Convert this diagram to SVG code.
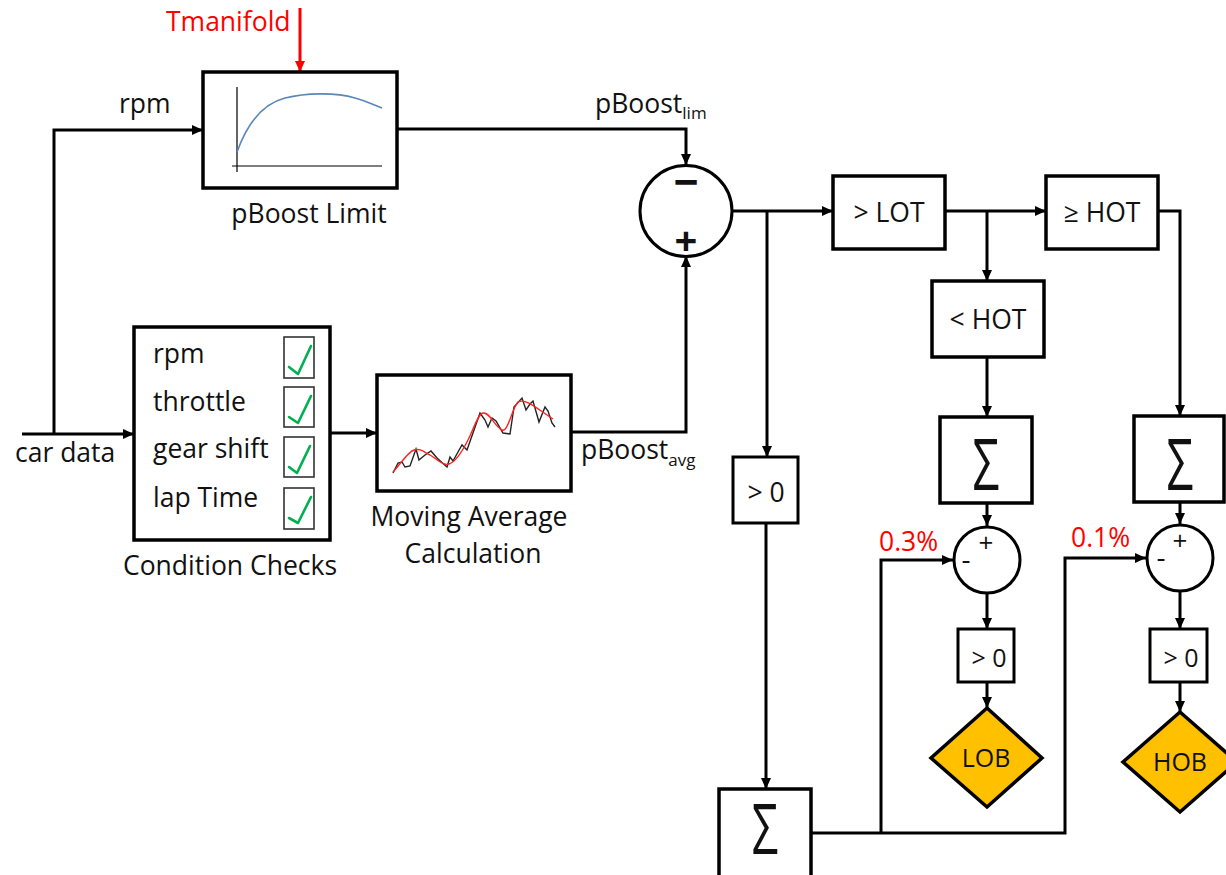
<svg xmlns="http://www.w3.org/2000/svg" width="1226" height="875" viewBox="0 0 1226 875">
<defs>
<style>
text{font-family:"Open Sans","Noto Sans","DejaVu Sans",sans-serif;fill:#111;font-size:26.5px}
.c{text-anchor:middle}
.box{fill:#fff;stroke:#000;stroke-width:3.5}
.sbox{fill:#fff;stroke:#000;stroke-width:3}
.con{fill:none;stroke:#000;stroke-width:3}
.red{fill:#ff0000}
.cb{fill:#fff;stroke:#333;stroke-width:1.6}
.ck{fill:none;stroke:#00b050;stroke-width:2.6;stroke-linecap:round;stroke-linejoin:round}
.sig{font-family:"Open Sans","DejaVu Sans",sans-serif;font-weight:400;font-size:72px;text-anchor:middle}
.sub{font-size:17px}
.dia{fill:#ffc000;stroke:#000;stroke-width:3.5}
</style>
<marker id="ah" markerWidth="11" markerHeight="10" refX="11" refY="5" orient="auto" markerUnits="userSpaceOnUse">
<path d="M0,0 L11,5 L0,10 z" fill="#000"/>
</marker>
<marker id="ahr" markerWidth="11" markerHeight="10" refX="11" refY="5" orient="auto" markerUnits="userSpaceOnUse">
<path d="M0,0 L11,5 L0,10 z" fill="#ff0000"/>
</marker>
</defs>
<rect width="1226" height="875" fill="#fff"/>

<g id="connectors">
<path d="M300,8 L300,72" fill="none" stroke="#ff0000" stroke-width="3" marker-end="url(#ahr)"/>
<path class="con" d="M54,434 L54,130 L203,130" marker-end="url(#ah)"/>
<path class="con" d="M22,434 L134,434" marker-end="url(#ah)"/>
<path class="con" d="M330,433 L377,433" marker-end="url(#ah)"/>
<path class="con" d="M571,432 L686,432 L686,256" marker-end="url(#ah)"/>
<path class="con" d="M397,129 L686,129 L686,165" marker-end="url(#ah)"/>
<path class="con" d="M732,211 L833,211" marker-end="url(#ah)"/>
<path class="con" d="M767,211 L767,457" marker-end="url(#ah)"/>
<path class="con" d="M945,211 L1046,211" marker-end="url(#ah)"/>
<path class="con" d="M987,211 L987,281" marker-end="url(#ah)"/>
<path class="con" d="M1158,211 L1180,211 L1180,416" marker-end="url(#ah)"/>
<path class="con" d="M987,357 L987,417" marker-end="url(#ah)"/>
<path class="con" d="M987,503 L987,526" marker-end="url(#ah)"/>
<path class="con" d="M987,594 L987,629" marker-end="url(#ah)"/>
<path class="con" d="M987,682 L987,708" marker-end="url(#ah)"/>
<path class="con" d="M1180,502 L1180,524" marker-end="url(#ah)"/>
<path class="con" d="M1180,592 L1180,629" marker-end="url(#ah)"/>
<path class="con" d="M1180,682 L1180,712" marker-end="url(#ah)"/>
<path class="con" d="M766,523 L766,789" marker-end="url(#ah)"/>
<path class="con" d="M811,833 L1065,833 L1065,558 L1146,558" marker-end="url(#ah)"/>
<path class="con" d="M881,833 L881,560 L953,560" marker-end="url(#ah)"/>
</g>

<g id="labels">
<text class="red" x="166" y="31">Tmanifold</text>
<text x="119" y="113">rpm</text>
<text x="15" y="462">car data</text>
<text x="595" y="113">pBoost<tspan class="sub" dy="6">lim</tspan></text>
<text x="581" y="459">pBoost<tspan class="sub" dy="7">avg</tspan></text>
<text class="red" x="879" y="551">0.3%</text>
<text class="red" x="1071" y="547">0.1%</text>
</g>

<g id="pboost-limit">
<rect class="box" x="203" y="72" width="194" height="116"/>
<path d="M237,87 L237,172 M232,166 L382,166" stroke="#000" stroke-width="1.2" fill="none"/>
<path d="M237,152 C247,124 262,104 285,98 C305,93 335,92 355,98 C366,101 374,105 382,108" fill="none" stroke="#5a86b8" stroke-width="1.6"/>
<text class="c" x="309" y="223">pBoost Limit</text>
</g>

<g id="condition-checks">
<rect class="box" x="134" y="327" width="196" height="213"/>
<text x="153" y="363">rpm</text>
<text x="153" y="411">throttle</text>
<text x="153" y="458">gear shift</text>
<text x="153" y="507">lap Time</text>
<rect class="cb" x="284" y="337" width="30" height="41"/>
<rect class="cb" x="284" y="387" width="30" height="40"/>
<rect class="cb" x="284" y="437" width="30" height="40"/>
<rect class="cb" x="284" y="488" width="30" height="41"/>
<path class="ck" d="M289,367 L298,374 L311,346"/>
<path class="ck" d="M289,417 L298,423 L311,396"/>
<path class="ck" d="M289,467 L297,473 L310,446"/>
<path class="ck" d="M289,518 L298,523 L311,497"/>
<text class="c" x="230" y="575">Condition Checks</text>
</g>

<g id="moving-average">
<rect class="box" x="377" y="375" width="194" height="116"/>
<path d="M393,473 L398,463 L402,462 L405,467 L410,466 L416,449 L419,460 L425,455 L431,451 L437,458 L447,467 L450,457 L453,461 L458,452 L462,445 L467,450 L474,430 L480,413 L485,420 L488,427 L492,418 L496,421 L503,433 L510,434 L514,407 L522,398 L526,410 L530,404 L533,401 L539,422 L545,407 L548,411 L552,423 L555,427" fill="none" stroke="#222" stroke-width="1.4"/>
<path d="M393,472 C402,462 408,452 414,450 C420,448 424,452 430,455 C438,460 444,466 449,464 C455,462 462,452 468,440 C474,428 478,414 483,413 C490,412 494,426 502,430 C508,433 512,408 518,402 C526,398 536,408 553,419" fill="none" stroke="#ff2020" stroke-width="1.4"/>
<text class="c" x="469" y="526">Moving Average</text>
<text class="c" x="473" y="563">Calculation</text>
</g>

<g id="sum-main">
<ellipse fill="#fff" stroke="#000" stroke-width="3" cx="686" cy="211" rx="46" ry="45.5"/>
<text class="c" x="686" y="198" style="font-size:44px;font-weight:bold">−</text>
<text class="c" x="686" y="255" style="font-size:40px;font-weight:bold">+</text>
</g>

<g id="gt-lot">
<rect class="box" x="833" y="176" width="112" height="73"/>
<text class="c" x="889" y="222">&gt; LOT</text>
</g>

<g id="ge-hot">
<rect class="box" x="1046" y="176" width="112" height="73"/>
<text class="c" x="1102" y="222">≥ HOT</text>
</g>

<g id="lt-hot">
<rect class="box" x="932" y="281" width="112" height="76"/>
<text class="c" x="988" y="329">&lt; HOT</text>
</g>

<g id="gt0-main">
<rect class="sbox" x="733" y="457" width="65" height="66"/>
<text class="c" x="766" y="502">&gt; 0</text>
</g>

<g id="sum-total">
<rect class="box" x="719" y="789" width="92" height="95"/>
<text class="sig" transform="translate(765,854) scale(0.67,1)" style="font-size:70px">Σ</text>
</g>

<g id="sum-lot">
<rect class="box" x="940" y="417" width="92" height="86"/>
<text class="sig" transform="translate(986,490) scale(0.66,1)">Σ</text>
</g>

<g id="sum-hot">
<rect class="box" x="1134" y="416" width="90" height="86"/>
<text class="sig" transform="translate(1180,490) scale(0.66,1)">Σ</text>
</g>

<g id="diff-lob">
<circle fill="#fff" stroke="#000" stroke-width="3" cx="987" cy="560" r="33"/>
<text class="c" x="986" y="552" style="font-size:26px">+</text>
<text class="c" x="966" y="569" style="font-size:28px">-</text>
</g>

<g id="diff-hob">
<circle fill="#fff" stroke="#000" stroke-width="3" cx="1180" cy="558" r="33"/>
<text class="c" x="1180" y="550" style="font-size:26px">+</text>
<text class="c" x="1161" y="567" style="font-size:28px">-</text>
</g>

<g id="gt0-lob">
<rect class="sbox" x="958" y="629" width="56" height="53"/>
<text class="c" x="989" y="667" style="font-size:25px">&gt; 0</text>
</g>

<g id="gt0-hob">
<rect class="sbox" x="1150" y="629" width="57" height="53"/>
<text class="c" x="1181" y="667" style="font-size:25px">&gt; 0</text>
</g>

<g id="lob">
<polygon class="dia" points="987,708 1042,758 987,807 931,758"/>
<text class="c" x="986" y="767" style="font-size:25px">LOB</text>
</g>

<g id="hob">
<polygon class="dia" points="1180,712 1237,762 1180,812 1123,762"/>
<text class="c" x="1180" y="771" style="font-size:25px">HOB</text>
</g>
</svg>
